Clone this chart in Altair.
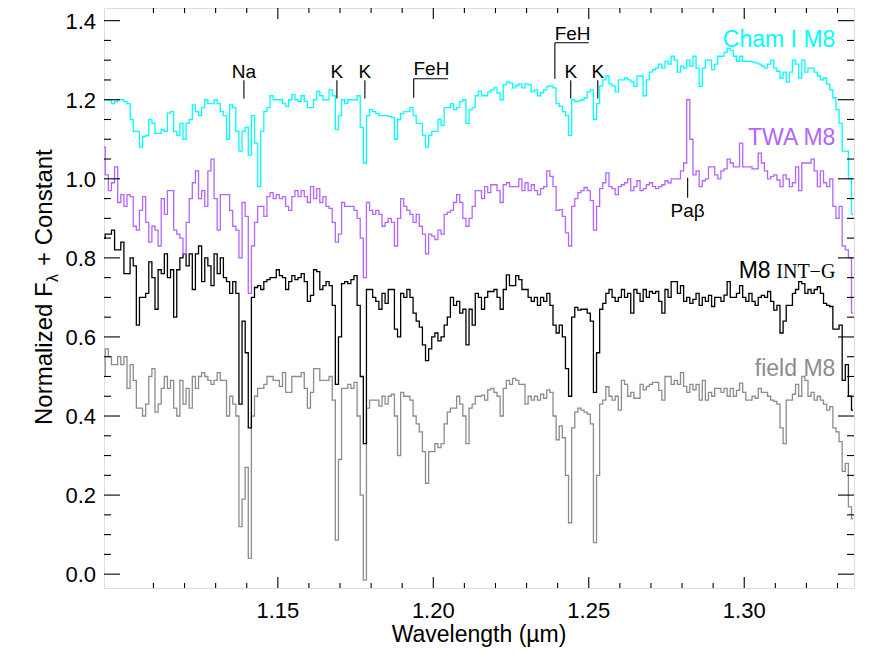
import altair as alt
import pandas as pd

# ---------------- data (wavelength in micron) ----------------
wavelength = [
    1.094, 1.095, 1.096, 1.097, 1.098, 1.099, 1.100, 1.101, 1.102, 1.103,
    1.104, 1.105, 1.106, 1.107, 1.108, 1.109, 1.110, 1.111, 1.112, 1.113,
    1.114, 1.115, 1.116, 1.117, 1.118, 1.119, 1.120, 1.121, 1.122, 1.123,
    1.124, 1.125, 1.126, 1.127, 1.128, 1.129, 1.130, 1.131, 1.132, 1.133,
    1.134, 1.135, 1.136, 1.137, 1.138, 1.139, 1.140, 1.141, 1.142, 1.143,
    1.144, 1.145, 1.146, 1.147, 1.148, 1.149, 1.150, 1.151, 1.152, 1.153,
    1.154, 1.155, 1.156, 1.157, 1.158, 1.159, 1.160, 1.161, 1.162, 1.163,
    1.164, 1.165, 1.166, 1.167, 1.168, 1.169, 1.170, 1.171, 1.172, 1.173,
    1.174, 1.175, 1.176, 1.177, 1.178, 1.179, 1.180, 1.181, 1.182, 1.183,
    1.184, 1.185, 1.186, 1.187, 1.188, 1.189, 1.190, 1.191, 1.192, 1.193,
    1.194, 1.195, 1.196, 1.197, 1.198, 1.199, 1.200, 1.201, 1.202, 1.203,
    1.204, 1.205, 1.206, 1.207, 1.208, 1.209, 1.210, 1.211, 1.212, 1.213,
    1.214, 1.215, 1.216, 1.217, 1.218, 1.219, 1.220, 1.221, 1.222, 1.223,
    1.224, 1.225, 1.226, 1.227, 1.228, 1.229, 1.230, 1.231, 1.232, 1.233,
    1.234, 1.235, 1.236, 1.237, 1.238, 1.239, 1.240, 1.241, 1.242, 1.243,
    1.244, 1.245, 1.246, 1.247, 1.248, 1.249, 1.250, 1.251, 1.252, 1.253,
    1.254, 1.255, 1.256, 1.257, 1.258, 1.259, 1.260, 1.261, 1.262, 1.263,
    1.264, 1.265, 1.266, 1.267, 1.268, 1.269, 1.270, 1.271, 1.272, 1.273,
    1.274, 1.275, 1.276, 1.277, 1.278, 1.279, 1.280, 1.281, 1.282, 1.283,
    1.284, 1.285, 1.286, 1.287, 1.288, 1.289, 1.290, 1.291, 1.292, 1.293,
    1.294, 1.295, 1.296, 1.297, 1.298, 1.299, 1.300, 1.301, 1.302, 1.303,
    1.304, 1.305, 1.306, 1.307, 1.308, 1.309, 1.310, 1.311, 1.312, 1.313,
    1.314, 1.315, 1.316, 1.317, 1.318, 1.319, 1.320, 1.321, 1.322, 1.323,
    1.324, 1.325, 1.326, 1.327, 1.328, 1.329, 1.330, 1.331, 1.332, 1.333,
    1.334, 1.335,
]

cham_i_m8 = [
    1.20, 1.20, 1.20, 1.19, 1.195, 1.20, 1.20, 1.195, 1.19, 1.15,
    1.12, 1.12, 1.08, 1.107, 1.11, 1.15, 1.14, 1.115, 1.115, 1.124,
    1.12, 1.166, 1.17, 1.12, 1.11, 1.14, 1.10, 1.14, 1.15, 1.187,
    1.17, 1.16, 1.18, 1.20, 1.19, 1.19, 1.20, 1.19, 1.17, 1.16,
    1.10, 1.187, 1.18, 1.12, 1.07, 1.12, 1.13, 1.06, 1.16, 1.09,
    0.98, 1.12, 1.17, 1.18, 1.21, 1.20, 1.20, 1.20, 1.19, 1.183,
    1.20, 1.213, 1.20, 1.196, 1.21, 1.196, 1.18, 1.18, 1.20, 1.221,
    1.21, 1.20, 1.20, 1.225, 1.21, 1.125, 1.16, 1.20, 1.19, 1.20,
    1.20, 1.20, 1.21, 1.13, 1.04, 1.16, 1.175, 1.17, 1.165, 1.16,
    1.16, 1.16, 1.158, 1.155, 1.10, 1.15, 1.165, 1.17, 1.17, 1.18,
    1.16, 1.14, 1.14, 1.11, 1.08, 1.11, 1.12, 1.12, 1.15, 1.135,
    1.18, 1.18, 1.19, 1.175, 1.18, 1.196, 1.20, 1.14, 1.175, 1.18,
    1.21, 1.222, 1.21, 1.21, 1.22, 1.225, 1.23, 1.217, 1.20, 1.238,
    1.245, 1.242, 1.23, 1.236, 1.24, 1.23, 1.24, 1.238, 1.22, 1.225,
    1.21, 1.218, 1.225, 1.234, 1.235, 1.23, 1.19, 1.183, 1.17, 1.16,
    1.11, 1.20, 1.195, 1.197, 1.20, 1.205, 1.22, 1.225, 1.15, 1.19,
    1.235, 1.25, 1.26, 1.24, 1.235, 1.22, 1.25, 1.25, 1.255, 1.25,
    1.245, 1.234, 1.26, 1.26, 1.21, 1.25, 1.27, 1.276, 1.28, 1.29,
    1.28, 1.297, 1.29, 1.31, 1.30, 1.27, 1.285, 1.28, 1.30, 1.285,
    1.31, 1.28, 1.234, 1.28, 1.30, 1.30, 1.276, 1.29, 1.31, 1.31,
    1.32, 1.33, 1.325, 1.31, 1.297, 1.31, 1.297, 1.297, 1.297, 1.295,
    1.293, 1.29, 1.285, 1.28, 1.29, 1.30, 1.28, 1.272, 1.255, 1.27,
    1.245, 1.27, 1.30, 1.29, 1.255, 1.30, 1.27, 1.28, 1.28, 1.27,
    1.26, 1.25, 1.255, 1.24, 1.225, 1.205, 1.175, 1.14, 1.07, 1.07,
    1.00, 0.91,
]

twa_m8 = [
    1.08, 1.01, 0.97, 0.99, 1.03, 0.94, 0.96, 0.93, 0.96, 0.955,
    0.88, 0.87, 0.92, 0.955, 0.89, 0.84, 0.88, 0.87, 0.83, 0.95,
    0.91, 0.97, 0.97, 0.87, 0.86, 0.85, 0.81, 0.89, 0.95, 0.99,
    1.02, 0.95, 0.97, 0.93, 1.02, 1.05, 0.95, 0.87, 0.96, 0.96,
    0.96, 0.92, 0.88, 0.87, 0.80, 0.94, 0.905, 0.71, 0.83, 0.89,
    0.93, 0.93, 0.905, 0.955, 0.965, 0.95, 0.96, 0.95, 0.955, 0.93,
    0.92, 0.955, 0.97, 0.955, 0.97, 0.955, 0.94, 0.98, 0.95, 0.975,
    0.94, 0.955, 0.93, 0.925, 0.89, 0.84, 0.86, 0.94, 0.93, 0.93,
    0.93, 0.92, 0.90, 0.85, 0.75, 0.94, 0.92, 0.91, 0.92, 0.91,
    0.88, 0.89, 0.90, 0.89, 0.83, 0.90, 0.95, 0.93, 0.92, 0.91,
    0.89, 0.91, 0.88, 0.86, 0.81, 0.86, 0.855, 0.846, 0.87, 0.86,
    0.91, 0.915, 0.92, 0.94, 0.96, 0.94, 0.90, 0.88, 0.90, 0.93,
    0.97, 0.97, 0.95, 0.98, 0.965, 0.985, 0.985, 0.97, 0.94, 0.985,
    0.99, 0.98, 0.98, 0.98, 1.00, 0.97, 0.99, 0.97, 0.985, 0.97,
    0.96, 0.975, 0.98, 1.02, 1.006, 0.98, 0.92, 0.922, 0.905, 0.863,
    0.83, 0.93, 0.95, 0.965, 0.97, 0.978, 0.97, 0.945, 0.87, 0.93,
    0.975, 0.99, 1.015, 0.98, 0.975, 0.96, 0.98, 0.985, 0.99, 1.00,
    0.97, 0.98, 0.995, 0.97, 0.975, 0.985, 0.99, 0.98, 0.975, 0.98,
    0.985, 0.995, 0.99, 1.00, 1.00, 1.00, 1.02, 1.04, 1.20, 1.10,
    1.01, 1.02, 0.98, 0.995, 1.00, 1.03, 1.03, 1.01, 1.00, 1.02,
    1.025, 1.05, 1.04, 1.03, 1.03, 1.09, 1.03, 1.03, 1.03, 1.025,
    1.025, 1.065, 1.04, 1.02, 1.00, 1.006, 1.01, 0.997, 0.98, 1.01,
    1.00, 0.98, 0.99, 1.03, 0.97, 1.04, 1.04, 1.04, 1.05, 1.02,
    0.98, 1.02, 0.99, 0.98, 1.00, 0.93, 0.90, 0.93, 0.83, 0.82,
    0.80, 0.66,
]

m8_int_g = [
    0.85, 0.86, 0.86, 0.87, 0.82, 0.82, 0.84, 0.76, 0.76, 0.80,
    0.78, 0.63, 0.70, 0.70, 0.71, 0.79, 0.75, 0.67, 0.77, 0.76,
    0.81, 0.75, 0.77, 0.65, 0.77, 0.80, 0.81, 0.78, 0.81, 0.72,
    0.81, 0.83, 0.74, 0.80, 0.78, 0.73, 0.81, 0.76, 0.80, 0.75,
    0.74, 0.71, 0.74, 0.71, 0.43, 0.64, 0.56, 0.37, 0.70, 0.725,
    0.73, 0.72, 0.74, 0.745, 0.75, 0.75, 0.77, 0.755, 0.75, 0.72,
    0.74, 0.755, 0.745, 0.75, 0.76, 0.74, 0.69, 0.705, 0.77, 0.765,
    0.72, 0.73, 0.74, 0.73, 0.68, 0.48, 0.60, 0.735, 0.74, 0.735,
    0.745, 0.755, 0.68, 0.50, 0.33, 0.72, 0.72, 0.70, 0.69, 0.67,
    0.71, 0.685, 0.72, 0.72, 0.62, 0.60, 0.71, 0.70, 0.72, 0.70,
    0.66, 0.64, 0.625, 0.58, 0.54, 0.57, 0.60, 0.61, 0.59, 0.60,
    0.63, 0.65, 0.70, 0.68, 0.69, 0.66, 0.67, 0.58, 0.67, 0.63,
    0.71, 0.70, 0.67, 0.70, 0.715, 0.715, 0.72, 0.70, 0.67, 0.72,
    0.757, 0.73, 0.73, 0.755, 0.745, 0.72, 0.72, 0.70, 0.69, 0.70,
    0.68, 0.70, 0.69, 0.71, 0.68, 0.63, 0.61, 0.63, 0.60, 0.52,
    0.45, 0.65, 0.675, 0.668, 0.67, 0.67, 0.66, 0.64, 0.46, 0.56,
    0.67, 0.685, 0.71, 0.72, 0.70, 0.69, 0.70, 0.72, 0.70, 0.71,
    0.66, 0.72, 0.71, 0.69, 0.72, 0.70, 0.715, 0.71, 0.715, 0.69,
    0.66, 0.72, 0.70, 0.74, 0.74, 0.71, 0.73, 0.69, 0.70, 0.685,
    0.695, 0.71, 0.68, 0.70, 0.69, 0.705, 0.677, 0.70, 0.70, 0.69,
    0.706, 0.74, 0.70, 0.70, 0.71, 0.73, 0.70, 0.69, 0.71, 0.69,
    0.68, 0.70, 0.705, 0.70, 0.715, 0.69, 0.668, 0.68, 0.61, 0.64,
    0.68, 0.68, 0.71, 0.72, 0.74, 0.735, 0.71, 0.72, 0.71, 0.72,
    0.727, 0.71, 0.685, 0.68, 0.677, 0.62, 0.62, 0.63, 0.49, 0.53,
    0.45, 0.415,
]

field_m8 = [
    0.50, 0.57, 0.55, 0.53, 0.53, 0.55, 0.53, 0.55, 0.47, 0.53,
    0.49, 0.42, 0.42, 0.40, 0.43, 0.50, 0.52, 0.41, 0.43, 0.47,
    0.50, 0.47, 0.49, 0.42, 0.40, 0.49, 0.43, 0.47, 0.42, 0.50,
    0.47, 0.50, 0.51, 0.50, 0.49, 0.48, 0.49, 0.51, 0.49, 0.49,
    0.40, 0.45, 0.43, 0.40, 0.12, 0.19, 0.27, 0.04, 0.40, 0.45,
    0.47, 0.47, 0.48, 0.50, 0.50, 0.49, 0.49, 0.475, 0.51, 0.46,
    0.46, 0.50, 0.50, 0.50, 0.51, 0.47, 0.42, 0.46, 0.52, 0.52,
    0.49, 0.49, 0.49, 0.50, 0.44, 0.086, 0.29, 0.47, 0.47, 0.48,
    0.47, 0.485, 0.40, 0.20, -0.015, 0.42, 0.44, 0.44, 0.44, 0.425,
    0.45, 0.43, 0.45, 0.455, 0.40, 0.30, 0.46, 0.45, 0.45, 0.44,
    0.40, 0.38, 0.36, 0.31, 0.23, 0.31, 0.31, 0.33, 0.32, 0.33,
    0.38, 0.41, 0.42, 0.42, 0.45, 0.43, 0.40, 0.33, 0.42, 0.43,
    0.45, 0.45, 0.453, 0.44, 0.466, 0.47, 0.46, 0.45, 0.40, 0.47,
    0.49, 0.48, 0.495, 0.49, 0.48, 0.48, 0.43, 0.45, 0.44, 0.45,
    0.44, 0.455, 0.445, 0.466, 0.46, 0.40, 0.34, 0.375, 0.345, 0.25,
    0.13, 0.37, 0.41, 0.42, 0.415, 0.41, 0.405, 0.38, 0.08, 0.25,
    0.43, 0.44, 0.474, 0.45, 0.44, 0.45, 0.415, 0.49, 0.48, 0.45,
    0.46, 0.445, 0.445, 0.48, 0.466, 0.475, 0.48, 0.485, 0.485, 0.465,
    0.44, 0.50, 0.50, 0.48, 0.49, 0.48, 0.51, 0.475, 0.46, 0.48,
    0.466, 0.48, 0.44, 0.49, 0.44, 0.46, 0.45, 0.47, 0.47, 0.46,
    0.47, 0.45, 0.47, 0.45, 0.465, 0.483, 0.46, 0.44, 0.44, 0.45,
    0.445, 0.47, 0.46, 0.46, 0.45, 0.44, 0.437, 0.43, 0.37, 0.33,
    0.44, 0.44, 0.455, 0.48, 0.45, 0.50, 0.49, 0.45, 0.46, 0.44,
    0.45, 0.44, 0.43, 0.415, 0.424, 0.37, 0.36, 0.335, 0.26, 0.28,
    0.17, 0.14,
]

series_colors = ["#00FFFF", "#B266FF", "#000000", "#8C8C8C"]

# line identifications
line_labels = ["Na", "K", "K", "K", "K"]
line_wl = [1.1391, 1.1690, 1.1780, 1.2442, 1.2529]
line_low = [1.203, 1.203, 1.203, 1.203, 1.203]
line_high = [1.249, 1.249, 1.249, 1.249, 1.249]
line_text_y = [1.256, 1.256, 1.256, 1.256, 1.256]

feh_start = [1.1937, 1.2391]
feh_end = [1.2047, 1.2500]
feh_top = [1.253, 1.344]
feh_bottom = [1.205, 1.253]
feh_text_x = [1.1994, 1.2448]
feh_text_y = [1.262, 1.350]

pab_wl = [1.2818]
pab_low = [0.952]
pab_high = [1.0025]
pab_text_y = [0.903]

label_wl_right = 1.3293
label_y = [1.334, 1.085, 0.749, 0.501]

x_major = [1.15, 1.20, 1.25, 1.30]
x_minor = [1.11, 1.12, 1.13, 1.14, 1.16, 1.17, 1.18, 1.19, 1.21, 1.22,
           1.23, 1.24, 1.26, 1.27, 1.28, 1.29, 1.31, 1.32, 1.33]
y_major = [0.0, 0.2, 0.4, 0.6, 0.8, 1.0, 1.2, 1.4]
y_minor = [0.05, 0.10, 0.15, 0.25, 0.30, 0.35, 0.45, 0.50, 0.55, 0.65,
           0.70, 0.75, 0.85, 0.90, 0.95, 1.05, 1.10, 1.15, 1.25, 1.30, 1.35]

# ---------------- chart ----------------
W, H = 750, 580
FONT = "Liberation Sans"
xs = alt.Scale(domain=[1.0941, 1.3353], nice=False, zero=False)
ys = alt.Scale(domain=[-0.035, 1.432], nice=False, zero=False)


def X(field):
    return alt.X(field, type="quantitative", scale=xs, axis=None)


def Y(field):
    return alt.Y(field, type="quantitative", scale=ys, axis=None)


layers = []

for vals, color in zip([field_m8, m8_int_g, twa_m8, cham_i_m8],
                       [series_colors[3], series_colors[2], series_colors[1], series_colors[0]]):
    df = pd.DataFrame({"wavelength": wavelength, "flux": vals})
    layers.append(
        alt.Chart(df).mark_line(interpolate="step", color=color, strokeWidth=1.3, clip=True).encode(
            x=X("wavelength"), y=Y("flux"))
    )


# frame ticks (inward, on all four sides)
def xtick_layer(vals, length, top):
    df = pd.DataFrame({"t": vals})
    y0, y1 = (0, length) if top else (H, H - length)
    return alt.Chart(df).mark_rule(color="black", strokeWidth=1.1).encode(
        x=X("t"), y=alt.value(y0), y2=alt.value(y1))


def ytick_layer(vals, length, right):
    df = pd.DataFrame({"t": vals})
    x0, x1 = (W, W - length) if right else (0, length)
    return alt.Chart(df).mark_rule(color="black", strokeWidth=1.1).encode(
        y=Y("t"), x=alt.value(x0), x2=alt.value(x1))


for side in (False, True):
    layers.append(xtick_layer(x_major, 11, side))
    layers.append(xtick_layer(x_minor, 5, side))
    layers.append(ytick_layer(y_major, 16, side))
    layers.append(ytick_layer(y_minor, 7, side))

# tick labels
xl = pd.DataFrame({"t": x_major})
layers.append(alt.Chart(xl).mark_text(font=FONT, fontSize=22, color="black", align="center",
                                      baseline="alphabetic").encode(
    x=X("t"), y=alt.value(H + 30), text=alt.Text("t:Q", format=".2f")))
yl = pd.DataFrame({"t": y_major})
layers.append(alt.Chart(yl).mark_text(font=FONT, fontSize=22, color="black", align="right",
                                      baseline="alphabetic", dy=8).encode(
    y=Y("t"), x=alt.value(-8), text=alt.Text("t:Q", format=".1f")))

# x-axis title
layers.append(alt.Chart(pd.DataFrame({"t": ["Wavelength (µm)"]})).mark_text(
    font=FONT, fontSize=23, color="black", align="center", baseline="alphabetic").encode(
    text="t:N", x=alt.value(W / 2), y=alt.value(H + 54)))

# line identification markers
lines_df = pd.DataFrame({"wl": line_wl + pab_wl, "lo": line_low + pab_low,
                         "hi": line_high + pab_high})
layers.append(alt.Chart(lines_df).mark_rule(color="black", strokeWidth=1.1).encode(
    x=X("wl"), y=Y("lo"), y2="hi:Q"))

text_df = pd.DataFrame({"label": line_labels + ["Paβ"], "wl": line_wl + pab_wl,
                        "y": line_text_y + pab_text_y})
layers.append(alt.Chart(text_df).mark_text(font=FONT, fontSize=19, color="black",
                                           baseline="alphabetic", align="center").encode(
    x=X("wl"), y=Y("y"), text="label:N"))

feh_df = pd.DataFrame({"x0": feh_start, "x1": feh_end, "top": feh_top, "bot": feh_bottom,
                       "tx": feh_text_x, "ty": feh_text_y, "label": ["FeH", "FeH"]})
layers.append(alt.Chart(feh_df).mark_rule(color="black", strokeWidth=1.1).encode(
    x=X("x0"), y=Y("bot"), y2="top:Q"))
layers.append(alt.Chart(feh_df).mark_rule(color="black", strokeWidth=1.1).encode(
    x=X("x0"), x2="x1:Q", y=Y("top")))
layers.append(alt.Chart(feh_df).mark_text(font=FONT, fontSize=19, color="black",
                                          baseline="alphabetic", align="center").encode(
    x=X("tx"), y=Y("ty"), text="label:N"))

# series labels
for name, yv, color in [("Cham I M8", label_y[0], series_colors[0]),
                        ("TWA M8", label_y[1], series_colors[1]),
                        ("field M8", label_y[3], series_colors[3])]:
    d = pd.DataFrame({"label": [name], "wl": [label_wl_right], "y": [yv]})
    layers.append(alt.Chart(d).mark_text(font=FONT, fontSize=23, color=color,
                                         baseline="alphabetic", align="right").encode(
        x=X("wl"), y=Y("y"), text="label:N"))

d_m8 = pd.DataFrame({"label": ["M8"], "wl": [1.3085], "y": [label_y[2]]})
layers.append(alt.Chart(d_m8).mark_text(font=FONT, fontSize=23, color="black",
                                        baseline="alphabetic", align="right").encode(
    x=X("wl"), y=Y("y"), text="label:N"))
d_int = pd.DataFrame({"label": ["INT\u2212G"], "wl": [label_wl_right], "y": [label_y[2]]})
layers.append(alt.Chart(d_int).mark_text(font="Liberation Serif", fontSize=20, color="black",
                                         baseline="alphabetic", align="right").encode(
    x=X("wl"), y=Y("y"), text="label:N"))


# y-axis title with subscript lambda
def ytitle(txt, xpix, ypix, size):
    d = pd.DataFrame({"t": [txt]})
    return alt.Chart(d).mark_text(font=FONT, fontSize=size, color="black", angle=270,
                                  align="left", baseline="alphabetic").encode(
        text="t:N", x=alt.value(xpix), y=alt.value(ypix))


layers.append(ytitle("Normalized F", -52, 417, 24))
layers.append(ytitle("\u03bb", -46, 274, 16))
layers.append(ytitle("+ Constant", -52, 258, 24))

chart = alt.layer(*layers).properties(
    width=W, height=H,
    padding={"left": 96, "top": 0, "right": 10, "bottom": 64},
    autosize=alt.AutoSizeParams(type="none"),
).configure_view(stroke="black", strokeWidth=1.3).configure(background="white")

chart.save("out.html", embed_options={"renderer": "svg", "actions": False})
